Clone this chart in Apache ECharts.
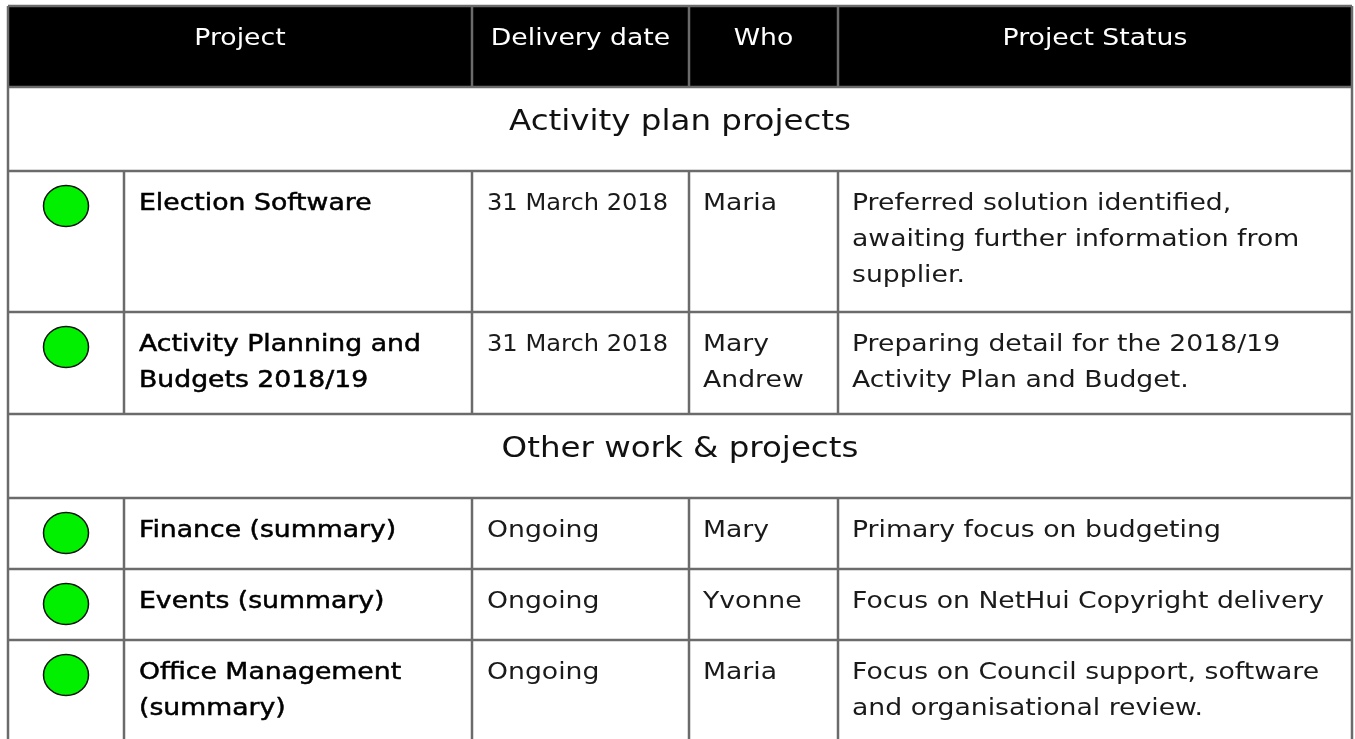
<!DOCTYPE html>
<html>
<head>
<meta charset="utf-8">
<script src="https://cdn.jsdelivr.net/npm/echarts@6/dist/echarts.min.js"></script>
<style>
html,body{margin:0;padding:0;background:#fff;}
#chart{width:1355px;height:739px;}
</style>
</head>
<body>
<div id="chart"></div>
<script>
// ---- data ----
var headers = ["Project", "Delivery date", "Who", "Project Status"];
var groups = ["Activity plan projects", "Other work & projects"];
var rowGroup = [0, 0, 1, 1, 1];
var projects = ["Election Software", "Activity Planning and\nBudgets 2018/19", "Finance (summary)", "Events (summary)", "Office Management\n(summary)"];
var deliveryDates = ["31 March 2018", "31 March 2018", "Ongoing", "Ongoing", "Ongoing"];
var owners = ["Maria", "Mary\nAndrew", "Mary", "Yvonne", "Maria"];
var statuses = ["Preferred solution identified,\nawaiting further information from\nsupplier.", "Preparing detail for the 2018/19\nActivity Plan and Budget.", "Primary focus on budgeting", "Focus on NetHui Copyright delivery", "Focus on Council support, software\nand organisational review."];
var statusColors = ["green", "green", "green", "green", "green"];

// ---- layout ----
var colEdges = [8, 124, 472, 689, 838, 1352];
var tableTop = 6;
var headerH = 81;
var groupH = 84;
var rowHeights = [141, 102, 71, 71, 102];
var lineColor = "#6b6b6b";
var lineW = 2.5;
var FONT = "'DejaVu Sans'";
var SX = 1.16;
var colorMap = { green: "#00f000" };

var rows = [];
var y = tableTop;
rows.push({ kind: "header", top: y, h: headerH });
y += headerH;
var lastGroup = -1;
for (var i = 0; i < projects.length; i++) {
  if (rowGroup[i] !== lastGroup) {
    lastGroup = rowGroup[i];
    rows.push({ kind: "group", idx: lastGroup, top: y, h: groupH });
    y += groupH;
  }
  rows.push({ kind: "item", idx: i, top: y, h: rowHeights[i] });
  y += rowHeights[i];
}

function line(x1, y1, x2, y2) {
  return { type: "line", shape: { x1: x1, y1: y1, x2: x2, y2: y2 }, style: { stroke: lineColor, lineWidth: lineW } };
}
function txt(x, y0, s, opt, sx) {
  return {
    type: "text",
    x: x, y: y0, scaleX: sx || SX,
    style: Object.assign({
      x: 0, y: 0, text: s, fontFamily: FONT, fontSize: 23, fill: "#111",
      lineHeight: 36, verticalAlign: "top", align: "left"
    }, opt || {})
  };
}

function renderItem(params, api) {
  var r = rows[api.value(0)];
  var L = colEdges[0], R = colEdges[colEdges.length - 1];
  var top = r.top, bot = r.top + r.h;
  var ch = [];
  if (r.kind === "header") {
    ch.push({ type: "rect", shape: { x: L, y: top, width: R - L, height: r.h }, style: { fill: "#000" } });
    var spans = [[0, 2], [2, 3], [3, 4], [4, 5]];
    for (var k = 0; k < spans.length; k++) {
      var cx = (colEdges[spans[k][0]] + colEdges[spans[k][1]]) / 2;
      ch.push(txt(cx, top + 15, headers[k], { fill: "#fff", align: "center" }));
      if (k > 0) ch.push(line(colEdges[spans[k][0]], top, colEdges[spans[k][0]], bot));
    }
  } else if (r.kind === "group") {
    ch.push(txt((L + R) / 2, top + 36, groups[r.idx], { align: "center", fontSize: 28, verticalAlign: "middle", lineHeight: 40 }));
  } else {
    var i = r.idx;
    for (var c = 1; c < colEdges.length - 1; c++) ch.push(line(colEdges[c], top, colEdges[c], bot));
    ch.push({
      type: "ellipse",
      shape: { cx: (colEdges[0] + colEdges[1]) / 2, cy: top + 35, rx: 22.5, ry: 20.5 },
      style: { fill: colorMap[statusColors[i]], stroke: "#111", lineWidth: 1.5 }
    });
    var hasDigits = /\d/.test(deliveryDates[i]);
    ch.push(txt(colEdges[1] + 15, top + 15, projects[i], { fill: "#000", stroke: "#000", lineWidth: 0.5 }));
    ch.push(txt(colEdges[2] + 15, top + 15, deliveryDates[i], { fill: "#1a1a1a" }, hasDigits ? 1.05 : SX));
    ch.push(txt(colEdges[3] + 14, top + 15, owners[i], { fill: "#1a1a1a" }));
    ch.push(txt(colEdges[4] + 14, top + 15, statuses[i], { fill: "#1a1a1a" }));
  }
  ch.push(line(L, top, L, bot));
  ch.push(line(R, top, R, bot));
  ch.push(line(L, bot, R, bot));
  if (r.kind === "header") ch.push(line(L, top, R, top));
  return { type: "group", children: ch };
}

var chart = echarts.init(document.getElementById("chart"), null, { renderer: "canvas" });
chart.setOption({
  animation: false,
  series: [{
    type: "custom",
    coordinateSystem: "none",
    renderItem: renderItem,
    data: rows.map(function (r, k) { return [k]; }),
    silent: true
  }]
});
</script>
</body>
</html>
